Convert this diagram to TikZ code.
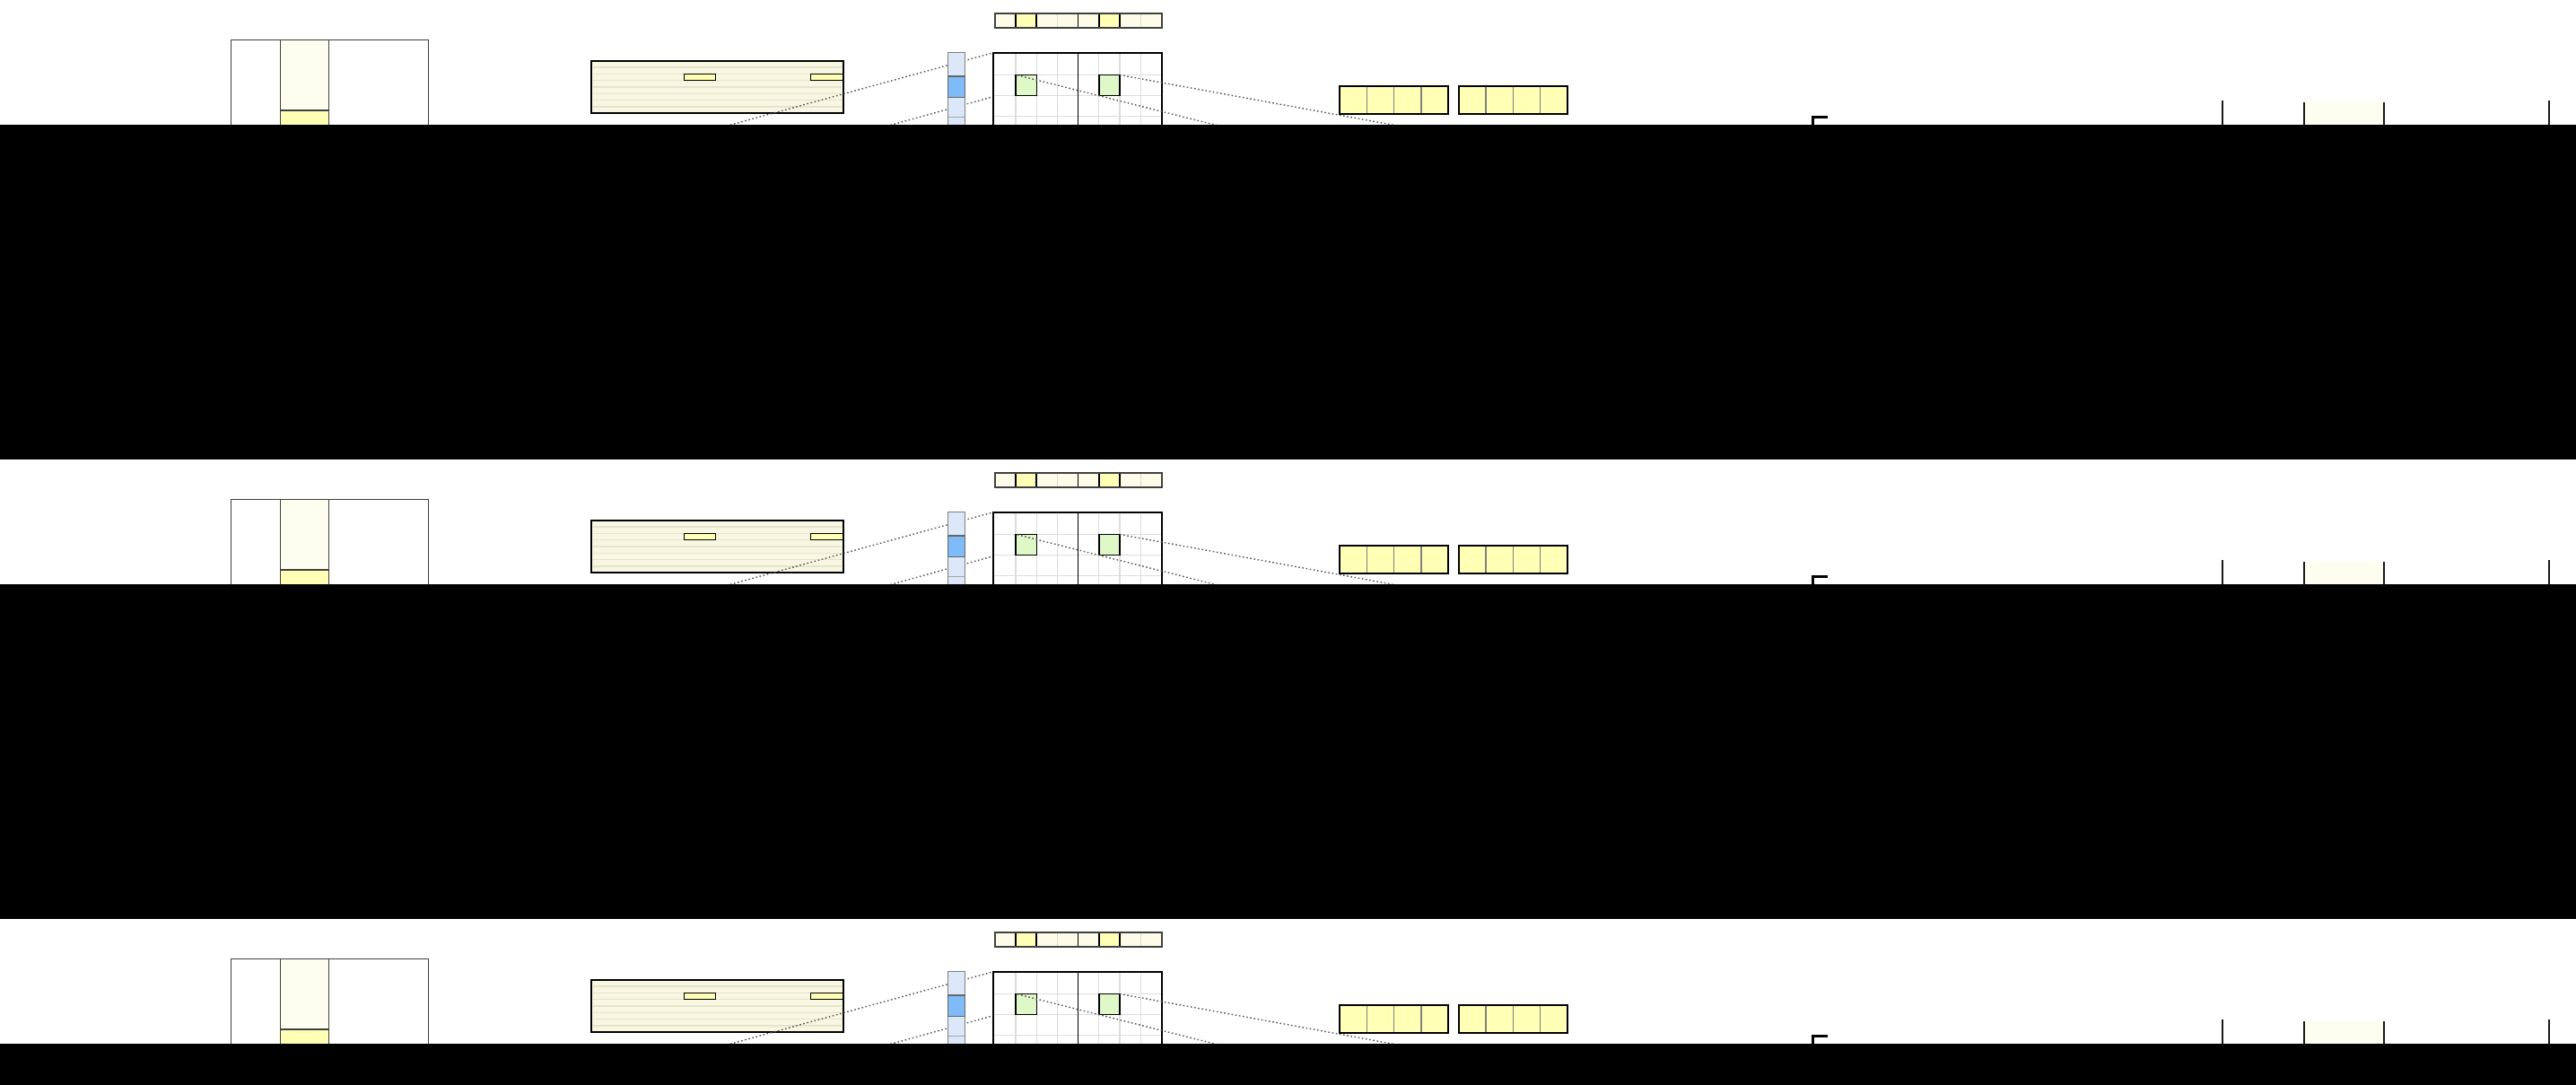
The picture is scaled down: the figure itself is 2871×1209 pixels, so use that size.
\documentclass[tikz,border=0pt]{standalone}
\definecolor{paleyellow}{HTML}{FEFEF0}
\definecolor{cellyellow}{HTML}{FFFFB5}
\definecolor{longfill}{HTML}{F8F8E2}
\definecolor{longline}{HTML}{E4E4CF}
\definecolor{stripfill}{HTML}{FCFCE8}
\definecolor{stripline}{HTML}{DCDCCC}
\definecolor{lightblue}{HTML}{DCE8FA}
\definecolor{midblue}{HTML}{7FBBF8}
\definecolor{cellgreen}{HTML}{DFF8C8}
\definecolor{gridgray}{HTML}{DDDDDD}
\definecolor{bordergray}{HTML}{404040}
\definecolor{dotgray}{HTML}{555555}
\begin{document}
\begin{tikzpicture}[x=0.01cm,y=-0.01cm,
  thickbox/.style={draw=black,line width=0.6pt},
  cellbox/.style={draw=black,line width=0.45pt},
  thinbox/.style={draw=bordergray,line width=0.4pt},
  dotline/.style={draw=dotgray,line width=0.4pt,dash pattern=on 0.45pt off 0.75pt},
  gridline/.style={draw=gridgray,line width=0.3pt},
  divline/.style={draw=gray,line width=0.35pt},
  tickline/.style={draw=black!90,line width=0.5pt}]
\useasboundingbox (0,0) rectangle (2871,1209);
\fill[white] (0,0) rectangle (2871,1209);
\foreach \oy in {0,512,1024}{
\begin{scope}[shift={(0,\oy)}]
  % left box with column
  \fill[paleyellow] (312.3,44.7) rectangle (366.3,122.7);
  \fill[cellyellow] (312.3,122.7) rectangle (366.3,300);
  \draw[thinbox] (312.3,44.7) -- (312.3,300) (366.3,44.7) -- (366.3,300);
  \draw[draw=bordergray,line width=0.6pt] (312.3,122.7) -- (366.3,122.7);
  \draw[thinbox] (257.3,300) -- (257.3,44.7) -- (477.3,44.7) -- (477.3,300);
  % long box
  \fill[longfill] (658.7,67.7) rectangle (939.7,126.3);
  \foreach \yy in {75,82.3,89.7,97,104.3,111.7,119}{
    \draw[draw=longline,line width=0.45pt] (661,\yy) -- (937.5,\yy);
  }
  \fill[cellyellow] (762.3,82.7) rectangle (797.3,89.7);
  \draw[cellbox] (762.3,82.7) rectangle (797.3,89.7);
  \fill[cellyellow] (903.3,82.7) rectangle (939.7,89.7);
  \draw[cellbox] (903.3,82.7) rectangle (939.7,89.7);
  \draw[thickbox] (658.7,67.7) rectangle (939.7,126.3);
  % dotted lines to the grid
  \coordinate (gridTL) at (1107.3,58.7);
  \coordinate (gridML) at (1107.3,107.6);
  \coordinate (l1end) at (700,170.5);
  \coordinate (l2end) at (850,178.9);
  \draw[dotline] (l1end) -- (gridTL);
  \draw[dotline] (l2end) -- (gridML);
  % vertical bar
  \fill[lightblue] (1056.7,58.7) rectangle (1075.3,300);
  \fill[midblue] (1056.7,85) rectangle (1075.3,108.3);
  \draw[draw=gray,line width=0.4pt] (1056.7,300) -- (1056.7,58.7) -- (1075.3,58.7) -- (1075.3,300);
  \draw[draw=bordergray!80,line width=0.4pt] (1056.7,85) rectangle (1075.3,108.3);
  \draw[draw=gray!70,line width=0.35pt] (1056.7,130.7) -- (1075.3,130.7);
  % grid
  \fill[white] (1107.3,58.7) rectangle (1295.3,300);
  \foreach \xx in {1132,1155.7,1178.7,1224.7,1248,1271.3}{
    \draw[gridline] (\xx,58.7) -- (\xx,300);
  }
  \foreach \yy in {83.3,106.7,129.3,152.6}{
    \draw[gridline] (1107.3,\yy) -- (1295.3,\yy);
  }
  \draw[draw=black,line width=0.35pt] (1201.7,58.7) -- (1201.7,300);
  \fill[cellgreen] (1132,83.3) rectangle (1155.7,106.7);
  \draw[cellbox] (1132,83.3) rectangle (1155.7,106.7);
  \fill[cellgreen] (1224.7,83.3) rectangle (1248,106.7);
  \draw[cellbox] (1224.7,83.3) rectangle (1248,106.7);
  \draw[thickbox] (1107.3,300) -- (1107.3,58.7) -- (1295.3,58.7) -- (1295.3,300);
  % dotted lines from the green cells
  \coordinate (g1) at (1134,83.8);
  \coordinate (g2) at (1248,83.5);
  \coordinate (l3end) at (1500,175.9);
  \coordinate (l4end) at (1700,166.2);
  \draw[dotline] (g1) -- (l3end);
  \draw[dotline] (g2) -- (l4end);
  % yellow boxes
  \fill[cellyellow] (1493,95.7) rectangle (1614.2,126.7);
  \foreach \xx in {1523.3,1553.6,1583.9}{
    \draw[divline] (\xx,95.7) -- (\xx,126.7);
  }
  \draw[thickbox] (1493,95.7) rectangle (1614.2,126.7);
  \fill[cellyellow] (1625.6,96.3) rectangle (1746.8,127.3);
  \foreach \xx in {1655.9,1686.2,1716.5}{
    \draw[divline] (\xx,96.3) -- (\xx,127.3);
  }
  \draw[thickbox] (1625.6,96.3) rectangle (1746.8,127.3);
  % top strip
  \fill[stripfill] (1108.7,14.7) rectangle (1294.7,31);
  \foreach \i in {1,2,3,5,6,7}{
    \draw[draw=stripline,line width=0.3pt] ({1108.7+23.25*\i},14.7) -- ({1108.7+23.25*\i},31);
  }
  \draw[draw=black,line width=0.35pt] (1201.7,14.7) -- (1201.7,31);
  \fill[cellyellow] (1131.95,14.7) rectangle (1155.2,31);
  \draw[cellbox] (1131.95,14.7) rectangle (1155.2,31);
  \fill[cellyellow] (1224.95,14.7) rectangle (1248.2,31);
  \draw[cellbox] (1224.95,14.7) rectangle (1248.2,31);
  \draw[draw=bordergray,line width=0.5pt] (1108.7,14.7) rectangle (1294.7,31);
  % bracket
  \draw[draw=black,line width=0.7pt] (2020.5,200) -- (2020.5,130.5) -- (2036.7,130.5);
  % vertical lines on the right
  \fill[paleyellow] (2568,114) rectangle (2657.3,300);
  \draw[tickline] (2477.3,112.3) -- (2477.3,300);
  \draw[tickline] (2568,114) -- (2568,300);
  \draw[tickline] (2657.3,114) -- (2657.3,300);
  \draw[tickline] (2840.7,112.3) -- (2840.7,300);
\end{scope}
}
% black bars covering the rest
\fill[black] (0,139) rectangle (2871,512);
\fill[black] (0,651) rectangle (2871,1024);
\fill[black] (0,1163) rectangle (2871,1209);
\end{tikzpicture}
\end{document}
